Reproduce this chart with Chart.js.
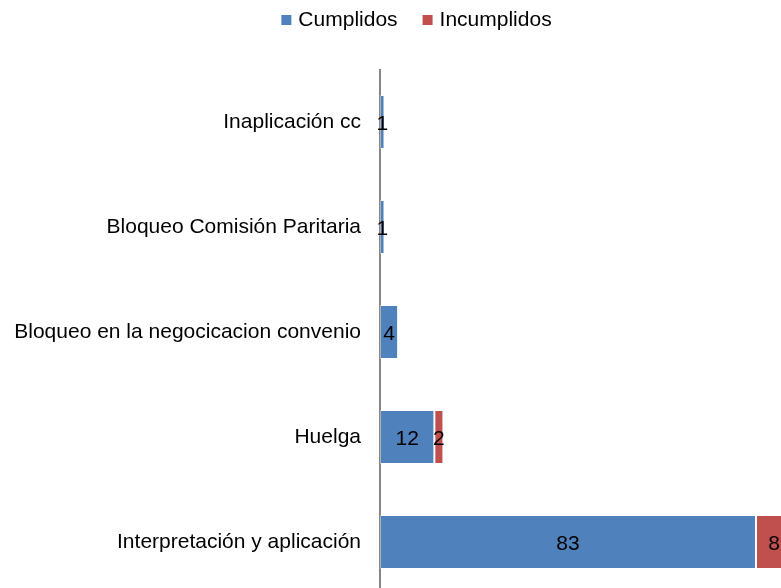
<!DOCTYPE html>
<html><head><meta charset="utf-8">
<script src="https://cdn.jsdelivr.net/npm/chart.js@4/dist/chart.umd.min.js"></script>
<style>
html,body{margin:0;padding:0;overflow:hidden;background:#fff;width:781px;height:588px}
#wrap{position:absolute;left:0;top:0;width:833px;height:600px}
</style></head>
<body><div id="wrap"><canvas id="c" width="833" height="600"></canvas></div>
<script>
const categories = ['Inaplicación cc','Bloqueo Comisión Paritaria','Bloqueo en la negocicacion convenio','Huelga','Interpretación y aplicación'];
const seriesNames = ['Cumplidos','Incumplidos'];
const cumplidos = [1,1,4,12,83];
const incumplidos = [0,0,0,2,8];
const colors = ['#4F81BD','#C0504D'];
const FONT = '"Liberation Sans", Arial, sans-serif';

const legendPlugin = {
  id: 'customLegend',
  afterDraw(chart) {
    const ctx = chart.ctx;
    ctx.save();
    ctx.font = '21px ' + FONT;
    ctx.textBaseline = 'middle';
    ctx.textAlign = 'left';
    const ds = chart.data.datasets;
    const box = 10, gapText = 17, gapItem = 25;
    let widths = ds.map(d => gapText + ctx.measureText(d.label).width);
    let total = widths.reduce((a,b)=>a+b,0) + gapItem*(ds.length-1);
    let x = 416.5 - total/2;
    const cy = 20;
    ds.forEach((d,i) => {
      ctx.fillStyle = d.backgroundColor;
      ctx.fillRect(x, cy - box/2, box, box);
      ctx.fillStyle = '#000';
      ctx.fillText(d.label, x + gapText, cy);
      x += widths[i] + gapItem;
    });
    ctx.restore();
  }
};

const valueLabels = {
  id: 'valueLabels',
  afterDatasetsDraw(chart) {
    const ctx = chart.ctx;
    ctx.save();
    ctx.font = '21px ' + FONT;
    ctx.fillStyle = '#000';
    ctx.textAlign = 'center';
    ctx.textBaseline = 'middle';
    chart.data.datasets.forEach((ds, di) => {
      const meta = chart.getDatasetMeta(di);
      meta.data.forEach((bar, i) => {
        const v = ds.data[i];
        if (!v) return;
        const cx = (bar.x + bar.base) / 2;
        ctx.fillText(String(v), cx, bar.y + 2);
      });
    });
    ctx.restore();
  }
};

new Chart(document.getElementById('c'), {
  type: 'bar',
  data: {
    labels: categories,
    datasets: [
      { label: seriesNames[0], data: cumplidos, backgroundColor: colors[0] },
      { label: seriesNames[1], data: incumplidos, backgroundColor: colors[1] }
    ]
  },
  options: {
    indexAxis: 'y',
    responsive: false,
    animation: false,
    devicePixelRatio: 1,
    layout: { padding: { top: 69.5, bottom: 5.5, left: 0, right: 0 } },
    datasets: { bar: { categoryPercentage: 0.514, barPercentage: 1, borderWidth: 1, borderColor: 'rgba(255,255,255,0.35)', borderSkipped: false } },
    plugins: { legend: { display: false }, tooltip: { enabled: false } },
    scales: {
      x: { stacked: true, display: false, min: 0, max: 100 },
      y: {
        stacked: true,
        grid: { display: false, drawTicks: false },
        border: { display: true, color: '#868686', width: 2 },
        ticks: { font: { family: FONT, size: 21 }, color: '#000', padding: 19 },
        afterFit(scale) { scale.width = 380; scale.paddingTop = 0; scale.paddingBottom = 0; }
      }
    }
  },
  plugins: [legendPlugin, valueLabels]
});
</script>
</body></html>
